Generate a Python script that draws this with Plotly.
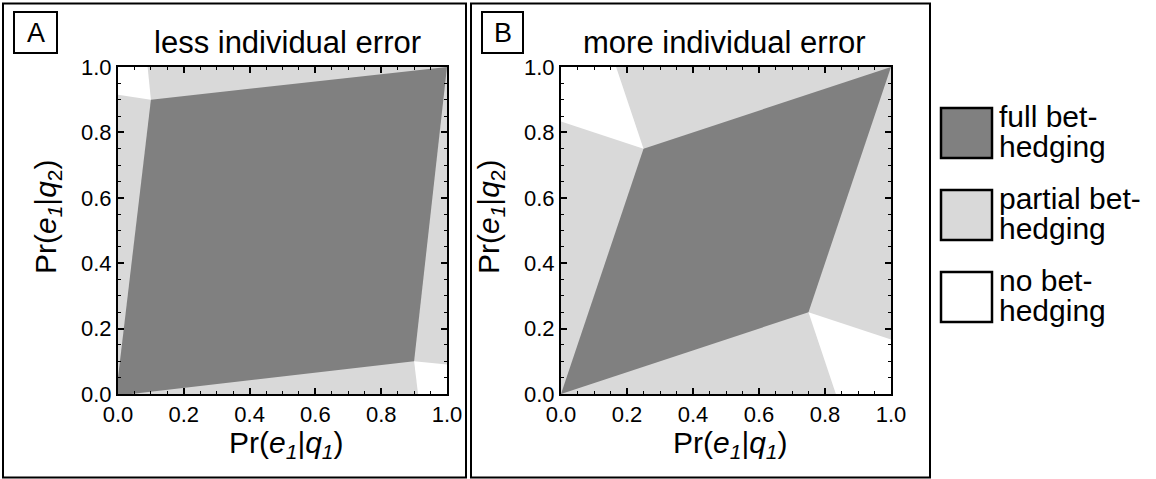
import plotly.graph_objects as go

# ---------------- data ----------------
# Panel A: less individual error
A_full_x = [0.0, 0.0, 0.1, 1.0, 0.9, 0.04]
A_full_y = [0.0, 0.05, 0.9, 1.0, 0.1, 0.0]
A_none1_x = [0.0, 0.09, 0.1, 0.0]
A_none1_y = [1.0, 1.0, 0.9, 0.915]
A_none2_x = [1.0, 1.0, 0.9, 0.912]
A_none2_y = [0.0, 0.09, 0.1, 0.0]

# Panel B: more individual error
B_full_x = [0.0, 0.25, 1.0, 0.75]
B_full_y = [0.0, 0.75, 1.0, 0.25]
B_none1_x = [0.0, 0.0, 0.167, 0.25]
B_none1_y = [0.833, 1.0, 1.0, 0.75]
B_none2_x = [0.75, 1.0, 1.0, 0.833]
B_none2_y = [0.25, 0.167, 0.0, 0.0]

tick_vals = [0.0, 0.2, 0.4, 0.6, 0.8, 1.0]
tick_text = ["0.0", "0.2", "0.4", "0.6", "0.8", "1.0"]

panel_titles = ["less individual error", "more individual error"]
panel_letters = ["A", "B"]
legend_labels = [("full bet-", "hedging"), ("partial bet-", "hedging"), ("no bet-", "hedging")]

DARK = "#808080"
LIGHT = "#d9d9d9"
WHITE = "#ffffff"
legend_colors = [DARK, LIGHT, WHITE]

W, H = 1156, 479
FONT = "Liberation Sans, Arial, Helvetica, sans-serif"


def px(x):
    return x / W


def py(y):
    return 1 - y / H


fig = go.Figure()


def poly(xs, ys, color, xa, ya):
    fig.add_trace(go.Scatter(
        x=xs + [xs[0]], y=ys + [ys[0]], mode="lines", fill="toself",
        fillcolor=color, line=dict(width=0, color=color),
        hoverinfo="skip", showlegend=False, xaxis=xa, yaxis=ya))


poly(A_full_x, A_full_y, DARK, "x", "y")
poly(A_none1_x, A_none1_y, WHITE, "x", "y")
poly(A_none2_x, A_none2_y, WHITE, "x", "y")
poly(B_full_x, B_full_y, DARK, "x2", "y2")
poly(B_none1_x, B_none1_y, WHITE, "x2", "y2")
poly(B_none2_x, B_none2_y, WHITE, "x2", "y2")

# plot areas in pixels
plots = [(118, 447, 67, 394), (561, 891, 67, 394)]

axis_common = dict(
    range=[0, 1], showgrid=False, zeroline=False, automargin=False,
    showline=True, linewidth=2, linecolor="black", mirror="allticks",
    ticks="inside", ticklen=6, tickwidth=1.5, tickcolor="black",
    tickvals=tick_vals, ticktext=tick_text,
    tickfont=dict(family=FONT, size=22, color="black"),
    minor=dict(dtick=0.05, ticks="inside", ticklen=3, tickwidth=1, tickcolor="black"),
    fixedrange=True,
)

layout_axes = {}
for i, (x0, x1, y0, y1) in enumerate(plots):
    sfx = "" if i == 0 else str(i + 1)
    layout_axes["xaxis" + sfx] = dict(axis_common, domain=[px(x0), px(x1)], anchor="y" + sfx)
    layout_axes["yaxis" + sfx] = dict(axis_common, domain=[py(y1), py(y0)], anchor="x" + sfx)

fig.update_layout(
    width=W, height=H, margin=dict(l=0, r=0, t=0, b=0, pad=0, autoexpand=False),
    paper_bgcolor="white", plot_bgcolor=LIGHT, showlegend=False,
    font=dict(family=FONT, color="black"),
    **layout_axes,
)

shapes = []
annotations = []
# panel frames
for (fx0, fx1) in [(3, 466), (471, 930)]:
    shapes.append(dict(type="rect", xref="paper", yref="paper",
                       x0=px(fx0), x1=px(fx1), y0=py(477.5), y1=py(3.5),
                       line=dict(color="black", width=2), fillcolor="rgba(0,0,0,0)", layer="above"))

letter_boxes = [(14, 57), (482, 523)]
title_cx = [287, 724]
for i, (x0, x1, y0, y1) in enumerate(plots):
    lb = letter_boxes[i]
    shapes.append(dict(type="rect", xref="paper", yref="paper",
                       x0=px(lb[0]), x1=px(lb[1]), y0=py(53), y1=py(12),
                       line=dict(color="black", width=2), fillcolor="rgba(0,0,0,0)"))
    annotations.append(dict(text=panel_letters[i], xref="paper", yref="paper",
                            x=px((lb[0] + lb[1]) / 2), y=py(33), xanchor="center", yanchor="middle",
                            showarrow=False, font=dict(size=27, family=FONT)))
    annotations.append(dict(text=panel_titles[i], xref="paper", yref="paper",
                            x=px(title_cx[i]), y=py(43), xanchor="center", yanchor="middle",
                            showarrow=False, font=dict(size=31, family=FONT)))
    # x axis title
    annotations.append(dict(text="Pr(<i>e</i><sub><i>1</i></sub>|<i>q</i><sub><i>1</i></sub>)",
                            xref="paper", yref="paper",
                            x=px((x0 + x1) / 2 + 4), y=py(444), xanchor="center", yanchor="middle",
                            showarrow=False, font=dict(size=30, family=FONT)))
    # y axis title
    annotations.append(dict(text="Pr(<i>e</i><sub><i>1</i></sub>|<i>q</i><sub>2</sub>)",
                            xref="paper", yref="paper", textangle=-90,
                            x=px(x0 - 70), y=py(217), xanchor="center", yanchor="middle",
                            showarrow=False, font=dict(size=30, family=FONT)))

# legend
for k, (l1, l2) in enumerate(legend_labels):
    top = 108 + 82 * k
    shapes.append(dict(type="rect", xref="paper", yref="paper",
                       x0=px(941), x1=px(992), y0=py(top + 50), y1=py(top),
                       line=dict(color="black", width=2.5), fillcolor=legend_colors[k]))
    annotations.append(dict(text=l1, xref="paper", yref="paper", x=px(997), y=py(top + 8.5),
                            xanchor="left", yanchor="middle", showarrow=False,
                            font=dict(size=30, family=FONT)))
    annotations.append(dict(text=l2, xref="paper", yref="paper", x=px(997), y=py(top + 38.5),
                            xanchor="left", yanchor="middle", showarrow=False,
                            font=dict(size=30, family=FONT)))

fig.update_layout(shapes=shapes, annotations=annotations)
fig.write_html("out.html", config={"displayModeBar": False},
               post_script="document.body.style.margin='0';document.body.style.overflow='hidden';")
